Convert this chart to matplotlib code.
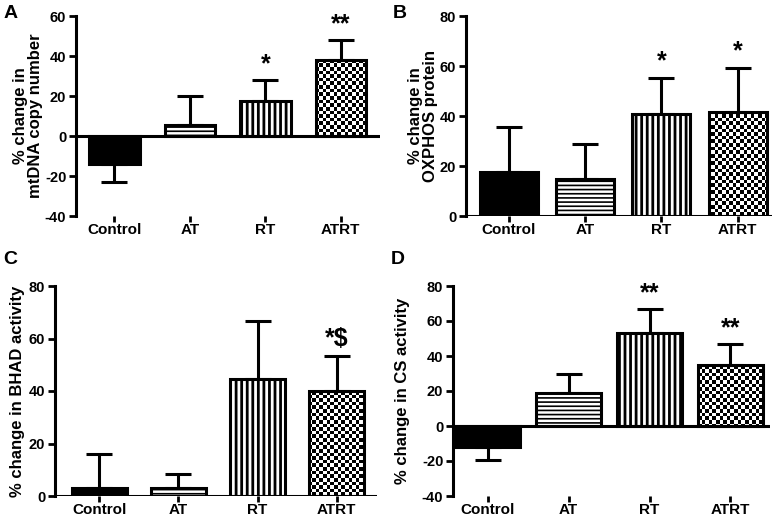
import numpy as np
import matplotlib
matplotlib.use('Agg')
from matplotlib import pyplot as plt

plt.rcParams['font.family'] = ['Liberation Sans', 'DejaVu Sans']
plt.rcParams['font.weight'] = 'bold'
plt.rcParams['axes.labelweight'] = 'bold'
plt.rcParams['axes.unicode_minus'] = False

groups = ['Control', 'AT', 'RT', 'ATRT']

mtdna_mean = [-14, 5.5, 17.5, 38]
mtdna_err = [8.8, 14.5, 10.5, 10]
mtdna_sig = ['', '', '*', '**']

oxphos_mean = [17.5, 14.7, 41, 41.5]
oxphos_err = [18.2, 14, 14.3, 17.8]
oxphos_sig = ['', '', '*', '*']

bhad_mean = [3, 3, 44.4, 40]
bhad_err = [13.1, 5.5, 22.3, 13.5]
bhad_sig = ['', '', '', '*$']

cs_mean = [-12, 19, 53, 34.7]
cs_err = [7.6, 10.5, 13.6, 12]
cs_sig = ['', '', '**', '**']

W, H = 777, 518
fig = plt.figure(figsize=(W / 100, H / 100), dpi=100)


def panel(rect_px, means, errs, sig, ylabel, ylim, width, xlim, letter, letter_xy, label_x):
    l, t, r, b = rect_px
    ax = fig.add_axes([l / W, 1 - b / H, (r - l) / W, (b - t) / H])
    x = np.arange(len(groups))
    bars = []
    styles = [dict(color='black'), dict(color='white', hatch='----'),
              dict(color='white', hatch='|||'), dict(color='none')]
    hlw = [1.0, 1.2, 2.0, 1.0]
    for i in range(len(groups)):
        with plt.rc_context({'hatch.linewidth': hlw[i]}):
            bb = ax.bar(x[i], means[i], width, edgecolor='black', linewidth=2.2,
                        zorder=3, **styles[i])
        bars.append(bb[0])
    # checkerboard fill for the last bar
    nx = int((r - l) / 3.6)
    ny = int((b - t) / 3.6)
    img = np.indices((ny, nx)).sum(0) % 2
    im = ax.imshow(img, cmap='gray', extent=(0, 1, 0, 1), transform=ax.transAxes,
                   interpolation='nearest', aspect='auto', zorder=2)
    im.set_clip_path(bars[3])
    for i in range(len(groups)):
        if means[i] >= 0:
            yerr = [[0], [errs[i]]]
        else:
            yerr = [[errs[i]], [0]]
        ax.errorbar(x[i], means[i], yerr=yerr, color='black', elinewidth=2.2,
                    capsize=9.5, capthick=2.2, zorder=2.5)
        if sig[i]:
            top = means[i] + errs[i]
            ax.annotate(sig[i], (x[i], top), xytext=(0, 3), textcoords='offset points',
                        ha='center', va='bottom', fontsize=18, fontweight='bold')
    ax.axhline(0, color='black', linewidth=2.2, zorder=4)
    ax.set_xlim(*xlim)
    ax.set_ylim(*ylim)
    ax.set_yticks(np.arange(ylim[0], ylim[1] + 1, 20))
    ax.set_xticks(x)
    ax.set_xticklabels(groups)
    for s in ['top', 'right', 'bottom']:
        ax.spines[s].set_visible(False)
    ax.spines['left'].set_linewidth(2.2)
    ax.tick_params(axis='y', width=2, length=5, labelsize=10.5, pad=2)
    ax.tick_params(axis='x', width=2, length=4, labelsize=11, pad=1)
    ax.set_ylabel(ylabel, fontsize=12, fontweight='bold', linespacing=1.0)
    ax.yaxis.set_label_coords(label_x, 0.5)
    fig.text(letter_xy[0] / W, 1 - letter_xy[1] / H, letter, fontsize=14,
             fontweight='bold', ha='left', va='center')
    return ax


panel((76, 16, 380, 216), mtdna_mean, mtdna_err, mtdna_sig,
      '% change in\nmtDNA copy number', (-40, 60), 0.67, (-0.51, 3.52), 'A', (4, 14), -0.11)
panel((466, 16, 772, 216), oxphos_mean, oxphos_err, oxphos_sig,
      '% change in\nOXPHOS protein', (0, 80), 0.76, (-0.56, 3.45), 'B', (393, 14), -0.09)
panel((55, 286, 377, 496), bhad_mean, bhad_err, bhad_sig,
      '% change in BHAD activity', (0, 80), 0.7, (-0.56, 3.51), 'C', (3, 259), -0.093)
panel((453, 286, 770, 496), cs_mean, cs_err, cs_sig,
      '% change in CS activity', (-40, 80), 0.8, (-0.43, 3.49), 'D', (391, 259), -0.136)

fig.savefig('out.png', dpi=100)
